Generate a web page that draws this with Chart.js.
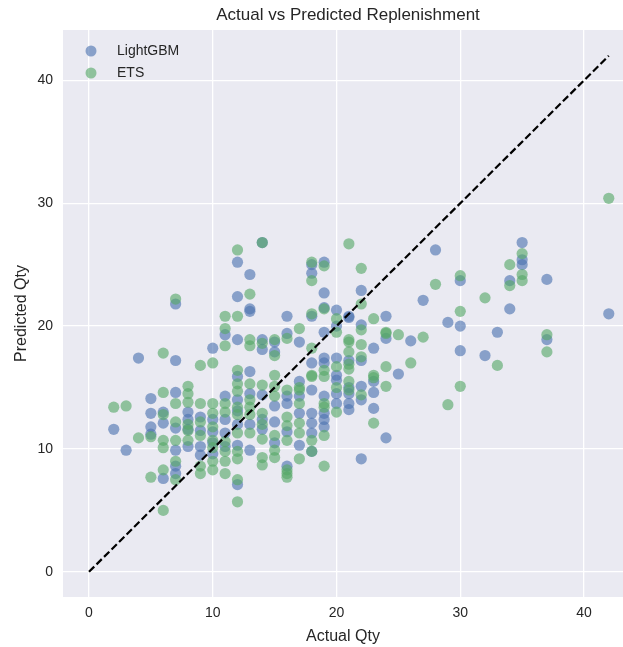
<!DOCTYPE html>
<html>
<head>
<meta charset="utf-8">
<script src="https://cdn.jsdelivr.net/npm/chart.js@4.4.1/dist/chart.umd.min.js"></script>
<style>
  html, body { margin: 0; padding: 0; background: #ffffff; overflow: hidden; }
  #wrap { width: 623px; height: 647px; position: relative; }
  canvas { display: block; }
</style>
</head>
<body>
<div id="wrap"><canvas id="c" width="623" height="647"></canvas></div>
<script>
// ---- data ----
const chartTitle = 'Actual vs Predicted Replenishment';
const xLabel = 'Actual Qty';
const yLabel = 'Predicted Qty';
const seriesNames = ['LightGBM', 'ETS'];
const tickValues = [0, 10, 20, 30, 40];
const diagonal = [0, 42];

// actual quantities (x categories)
const actualQty = [2,3,4,5,6,7,8,9,10,11,12,13,14,15,16,17,18,19,20,21,22,23,24,25,26,27,28,29,30,32,33,34,35,37,42];

// LightGBM predictions for each actual quantity
const lgbmPred = [
  [11.6],
  [9.9],
  [17.4],
  [14.1, 12.9, 11.8, 11.2],
  [13.0, 12.1, 7.6],
  [21.8, 17.2, 14.6, 11.7, 9.9, 8.6, 8.0],
  [13.0, 12.4, 11.6, 10.2],
  [12.6, 11.5, 10.2, 9.5],
  [18.2, 12.4, 11.4, 10.5, 9.6],
  [19.3, 14.3, 12.4, 11.3, 10.2],
  [25.2, 22.4, 18.9, 15.9, 14.0, 13.1, 12.0, 10.3, 7.1],
  [24.2, 21.4, 21.2, 16.3, 14.5, 12.0, 9.9],
  [26.8, 18.9, 18.1, 14.4, 12.4, 11.6],
  [18.7, 17.9, 13.5, 12.2, 10.5],
  [20.8, 19.4, 14.3, 13.7, 11.4, 8.6],
  [18.7, 15.5, 14.3, 12.9, 10.3],
  [25.0, 24.3, 20.8, 17.0, 14.8, 12.9, 12.1, 11.3, 9.8],
  [25.2, 22.7, 21.5, 19.5, 17.4, 17.0, 14.3, 12.9, 12.4, 11.8],
  [21.3, 20.0, 17.4, 16.0, 15.6, 14.5, 13.7],
  [20.8, 20.7, 17.2, 15.0, 14.5, 13.7, 13.2],
  [22.9, 20.1, 17.2, 15.1, 14.0, 9.2],
  [18.2, 15.5, 14.6, 13.3],
  [20.8, 19.0, 10.9],
  [16.1],
  [18.8],
  [22.1],
  [26.2],
  [20.3],
  [23.7, 20.0, 18.0],
  [17.6],
  [19.5],
  [23.7, 21.4],
  [26.8, 25.4, 25.0],
  [23.8, 18.9],
  [21.0]
];

// ETS predictions for each actual quantity
const etsPred = [
  [13.4],
  [13.5],
  [10.9],
  [11.0, 7.7],
  [17.8, 14.6, 12.8, 10.7, 10.1, 8.3, 5.0],
  [22.2, 13.7, 12.2, 10.7, 9.0, 7.5],
  [15.1, 14.5, 13.8, 12.0, 11.5, 10.7],
  [16.8, 13.7, 12.2, 11.1, 8.6, 8.0],
  [17.0, 13.7, 12.9, 11.8, 10.7, 10.1, 9.0, 8.3],
  [20.8, 19.8, 18.4, 13.7, 13.0, 10.6, 9.8, 9.0, 8.0],
  [26.2, 20.8, 16.4, 15.3, 14.7, 13.4, 12.8, 11.3, 9.8, 9.2, 7.5, 5.7],
  [22.6, 18.9, 18.4, 15.3, 14.0, 13.4, 12.8, 11.3],
  [26.8, 18.6, 15.2, 12.9, 12.0, 10.8, 9.3, 8.7],
  [18.9, 17.6, 16.0, 15.1, 14.3, 11.1, 9.9, 9.3],
  [19.0, 14.8, 12.6, 11.9, 10.7, 8.3, 8.0, 7.7],
  [19.8, 15.0, 14.8, 13.7, 12.1, 11.3, 9.2],
  [25.2, 23.7, 21.0, 18.2, 16.0, 15.9, 10.7, 9.8],
  [24.9, 21.4, 16.4, 15.9, 13.7, 13.4, 11.1, 8.6],
  [20.6, 19.5, 16.7, 15.0, 13.0],
  [26.7, 18.9, 18.7, 17.9, 16.9, 16.5, 15.5, 14.8],
  [24.7, 21.8, 19.7, 18.5, 17.5, 14.4],
  [20.6, 16.0, 15.8, 12.1],
  [19.5, 19.4, 16.7, 15.1],
  [19.3],
  [17.0],
  [19.1],
  [23.4],
  [13.6],
  [24.1, 21.2, 15.1],
  [22.3],
  [16.8],
  [25.0, 23.3],
  [25.9, 24.2, 23.7],
  [19.3, 17.9],
  [30.4]
];

// ---- build point tables ----
function toPoints(preds) {
  const pts = [];
  actualQty.forEach((a, i) => preds[i].forEach(p => pts.push({ x: a, y: p })));
  return pts;
}

const FONT = "'Liberation Sans', Arial, Helvetica, sans-serif";
const TEXT = '#262626';
const BLUE = 'rgba(76,114,176,0.62)';
const GREEN = 'rgba(85,168,104,0.62)';

const bgPlugin = {
  id: 'bg',
  beforeDraw(chart) {
    const { ctx, chartArea: a } = chart;
    ctx.save();
    ctx.fillStyle = '#EAEAF2';
    ctx.fillRect(a.left, a.top, a.right - a.left, a.bottom - a.top);
    ctx.restore();
  }
};

const overlayPlugin = {
  id: 'overlay',
  afterDraw(chart) {
    const { ctx } = chart;
    ctx.save();
    // title
    ctx.fillStyle = TEXT;
    ctx.font = '17px ' + FONT;
    ctx.textAlign = 'center';
    ctx.textBaseline = 'middle';
    ctx.fillText(chartTitle, 348, 15);
    // legend
    const colors = [BLUE, GREEN];
    ctx.font = '14px ' + FONT;
    ctx.textAlign = 'left';
    seriesNames.forEach((n, i) => {
      const cy = 51 + i * 22;
      ctx.fillStyle = colors[i];
      ctx.beginPath();
      ctx.arc(91, cy, 5.5, 0, Math.PI * 2);
      ctx.fill();
      ctx.fillStyle = TEXT;
      ctx.fillText(n, 117, cy);
    });
    ctx.restore();
  }
};

new Chart(document.getElementById('c'), {
  type: 'scatter',
  data: {
    datasets: [
      {
        label: 'diag',
        data: diagonal.map(v => ({ x: v, y: v })),
        showLine: true,
        borderColor: '#000000',
        borderWidth: 2.2,
        borderDash: [7.4, 3.2],
        pointRadius: 0,
        order: 0
      },
      {
        label: seriesNames[1],
        data: toPoints(etsPred),
        backgroundColor: GREEN,
        borderWidth: 0,
        pointRadius: 5.6,
        order: 1
      },
      {
        label: seriesNames[0],
        data: toPoints(lgbmPred),
        backgroundColor: BLUE,
        borderWidth: 0,
        pointRadius: 5.6,
        order: 2
      }
    ]
  },
  options: {
    responsive: false,
    animation: false,
    devicePixelRatio: 1,
    layout: { autoPadding: false, padding: { left: 0, right: 0, top: 30, bottom: 0 } },
    plugins: {
      legend: { display: false },
      tooltip: { enabled: false },
      title: { display: false }
    },
    scales: {
      x: {
        type: 'linear',
        min: -2.1,
        max: 43.15,
        afterBuildTicks: s => { s.ticks = tickValues.map(v => ({ value: v })); },
        afterFit: s => { s.height = 50; s.paddingLeft = 0; s.paddingRight = 0; },
        grid: { color: '#ffffff', lineWidth: 1.3, drawTicks: false },
        border: { display: false },
        ticks: { color: TEXT, font: { family: FONT, size: 14 }, padding: 8 },
        title: { display: true, text: xLabel, color: TEXT, font: { family: FONT, size: 16 }, padding: { top: 0, bottom: 1 } }
      },
      y: {
        type: 'linear',
        min: -2.05,
        max: 44.1,
        afterBuildTicks: s => { s.ticks = tickValues.map(v => ({ value: v })); },
        afterFit: s => { s.width = 63; s.paddingTop = 0; s.paddingBottom = 0; },
        grid: { color: '#ffffff', lineWidth: 1.3, drawTicks: false },
        border: { display: false },
        ticks: { color: TEXT, font: { family: FONT, size: 14 }, padding: 10 },
        title: { display: true, text: yLabel, color: TEXT, font: { family: FONT, size: 16 }, padding: { top: 12, bottom: 0 } }
      }
    }
  },
  plugins: [bgPlugin, overlayPlugin]
});
</script>
</body>
</html>
